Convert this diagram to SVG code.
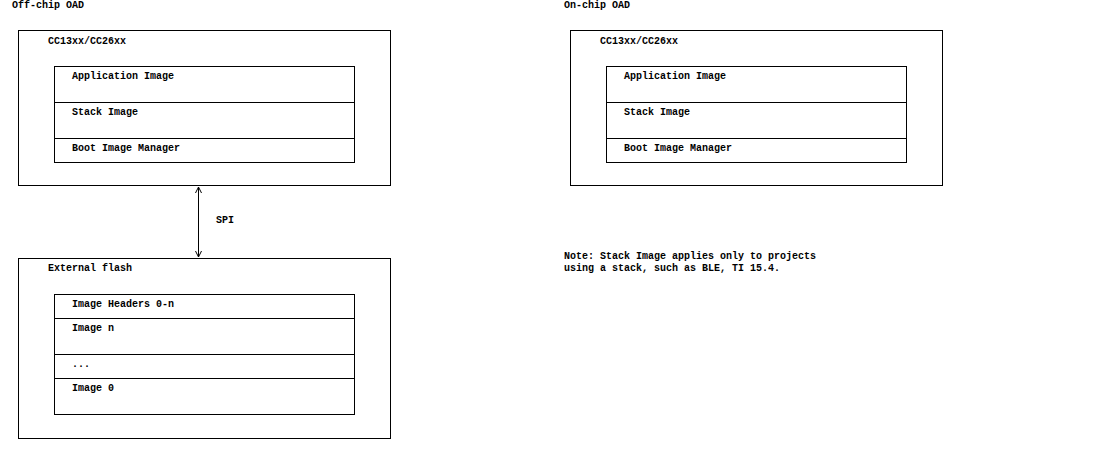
<svg xmlns="http://www.w3.org/2000/svg" width="1104" height="456" viewBox="0 0 1104 456">
<defs>
<style>
.t{font-family:"Liberation Mono","DejaVu Sans Mono",monospace;font-size:10px;font-weight:bold;fill:#000}
.b{fill:#fff;stroke:#000;stroke-width:1}
.l{stroke:#000;stroke-width:1;fill:none}
</style>
<marker id="ah" viewBox="0 0 8 8" refX="7" refY="4" markerWidth="8" markerHeight="8" markerUnits="userSpaceOnUse" orient="auto-start-reverse">
<path d="M1,1 L7,4 L1,7" fill="none" stroke="#000" stroke-width="1"/>
</marker>
</defs>
<rect width="1104" height="456" fill="#fff"/>
<text class="t" x="12" y="8">Off-chip OAD</text>
<text class="t" x="564" y="8">On-chip OAD</text>
<g id="offchip-cc">
<rect class="b" x="18.5" y="30.5" width="372" height="155"/>
<text class="t" x="48" y="44">CC13xx/CC26xx</text>
</g>
<g id="offchip-mem">
<rect class="b" x="54.5" y="66.5" width="300" height="96"/>
<line class="l" x1="54.5" y1="102.5" x2="354.5" y2="102.5"/>
<line class="l" x1="54.5" y1="138.5" x2="354.5" y2="138.5"/>
<text class="t" x="72" y="79">Application Image</text>
<text class="t" x="72" y="115">Stack Image</text>
<text class="t" x="72" y="151">Boot Image Manager</text>
</g>
<g id="ext-flash">
<rect class="b" x="18.5" y="258.5" width="372" height="180"/>
<text class="t" x="48" y="271">External flash</text>
</g>
<g id="ext-mem">
<rect class="b" x="54.5" y="294.5" width="300" height="120"/>
<line class="l" x1="54.5" y1="318.5" x2="354.5" y2="318.5"/>
<line class="l" x1="54.5" y1="354.5" x2="354.5" y2="354.5"/>
<line class="l" x1="54.5" y1="378.5" x2="354.5" y2="378.5"/>
<text class="t" x="72" y="307">Image Headers 0-n</text>
<text class="t" x="72" y="331">Image n</text>
<text class="t" x="72" y="367">...</text>
<text class="t" x="72" y="391">Image 0</text>
</g>
<g id="onchip-cc">
<rect class="b" x="570.5" y="30.5" width="372" height="155"/>
<text class="t" x="600" y="44">CC13xx/CC26xx</text>
</g>
<g id="onchip-mem">
<rect class="b" x="606.5" y="66.5" width="300" height="96"/>
<line class="l" x1="606.5" y1="102.5" x2="906.5" y2="102.5"/>
<line class="l" x1="606.5" y1="138.5" x2="906.5" y2="138.5"/>
<text class="t" x="624" y="79">Application Image</text>
<text class="t" x="624" y="115">Stack Image</text>
<text class="t" x="624" y="151">Boot Image Manager</text>
</g>
<g id="note">
<text class="t" x="564" y="259">Note: Stack Image applies only to projects</text>
<text class="t" x="564" y="271">using a stack, such as BLE, TI 15.4.</text>
</g>
<g id="connectors">
<line class="l" x1="198.5" y1="187" x2="198.5" y2="257" marker-start="url(#ah)" marker-end="url(#ah)"/>
<text class="t" x="216" y="223">SPI</text>
</g>
</svg>
